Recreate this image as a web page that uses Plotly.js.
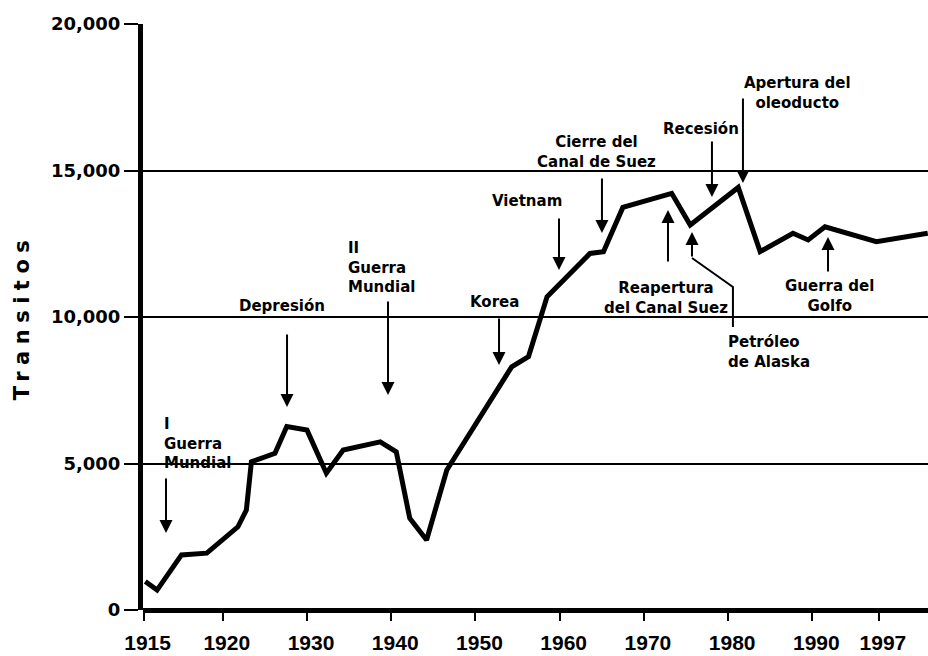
<!DOCTYPE html>
<html><head><meta charset="utf-8">
<script src="https://cdn.plot.ly/plotly-3.0.1.min.js"></script>
<style>
html,body{margin:0;padding:0;background:#fff;}
#chart{width:928px;height:656px;}
.ytitle{letter-spacing:6.5px;}
</style></head><body><div id="chart"></div>
<script>
// Transits per year (x in axis years)
const years = [1910.8, 1912.2, 1915.1, 1918.1, 1921.8, 1922.8, 1923.4, 1926.2, 1927.6, 1930.0,
  1932.3, 1934.3, 1938.7, 1940.6, 1942.2, 1944.2, 1946.6, 1954.3, 1956.3, 1957.7, 1958.5,
  1963.6, 1965.2, 1967.5, 1973.3, 1975.5, 1981.2, 1983.8, 1987.7, 1989.5, 1991.5, 1997.6, 2003.7];
const transits = [970, 680, 1880, 1940, 2840, 3410, 5060, 5350, 6260, 6140,
  4670, 5460, 5740, 5400, 3130, 2390, 4780, 8300, 8650, 9900, 10690,
  12170, 12230, 13740, 14220, 13140, 14420, 12230, 12860, 12630, 13080, 12570, 12860];

const yTickVals = [0, 5000, 10000, 15000, 20000];
const yTickText = ['0', '5,000', '10,000', '15,000', '20,000'];
const xTickVals = [1910.6, 1920, 1930, 1940, 1950, 1960, 1970, 1980, 1990, 1997.9];
const xTickText = ['1915', '1920', '1930', '1940', '1950', '1960', '1970', '1980', '1990', '1997'];

// Event labels (positions in axis units)
const eventTexts = ['I<br>Guerra<br>Mundial', 'Depresión', 'II<br>Guerra<br>Mundial', 'Korea', 'Vietnam',
  'Cierre del<br>Canal de Suez', 'Recesión', 'Apertura del<br>oleoducto', 'Reapertura<br>del Canal Suez',
  'Petróleo<br>de Alaska', 'Guerra del<br>Golfo'];
const eventX = [1912.79, 1927.09, 1934.63, 1952.32, 1956.12, 1964.43, 1976.78, 1988.18, 1972.62, 1979.76, 1992.09];
const eventY = [6724, 10380, 12730, 10512, 13959, 15615, 16417, 17645, 10649, 8806, 10717];
const eventXAnchor = ['left', 'center', 'left', 'center', 'center', 'center', 'center', 'center', 'center', 'left', 'center'];
const eventYAnchor = ['top', 'middle', 'top', 'middle', 'middle', 'middle', 'middle', 'middle', 'middle', 'middle', 'middle'];

// Arrows: x, head y, tail y
const arrowX = [1913.26, 1927.63, 1939.62, 1952.8, 1959.92, 1965.02, 1978.08, 1981.76, 1972.86, 1975.71, 1991.86];
const arrowHeadY = [2628, 6928, 7338, 8362, 11604, 12867, 14096, 14574, 13652, 12901, 12730];
const arrowTailY = [4539, 9454, 10580, 10000, 13413, 14778, 16041, 17509, 11843, 12014, 11502];
// Bent leader for "Petróleo de Alaska"
const alaskaLeaderX = [1980.57, 1980.57, 1975.71];
const alaskaLeaderY = [9659, 11024, 12014];

const labelFont = {family: 'DejaVu Sans', size: 15, color: '#000', weight: 'bold'};

const annotations = [];
eventTexts.forEach((t, i) => {
  annotations.push({
    text: t, x: eventX[i], y: eventY[i], xref: 'x', yref: 'y',
    xanchor: eventXAnchor[i], yanchor: eventYAnchor[i], align: eventXAnchor[i] === 'left' ? 'left' : 'center',
    showarrow: false, font: labelFont
  });
});
arrowX.forEach((x, i) => {
  annotations.push({
    text: '', x: x, y: arrowHeadY[i], ax: x, ay: arrowTailY[i], axref: 'x', ayref: 'y',
    xref: 'x', yref: 'y', showarrow: true, arrowhead: 2, arrowsize: 1.3, arrowwidth: 2,
    arrowcolor: '#000', standoff: 0, startstandoff: 0
  });
});

const pathStr = alaskaLeaderX.map((x, i) => (i ? 'L ' : 'M ') + x + ',' + alaskaLeaderY[i]).join(' ');

const data = [{
  x: years, y: transits, type: 'scatter', mode: 'lines',
  line: {color: '#000', width: 5}, hoverinfo: 'skip'
}];

const layout = {
  width: 928, height: 656,
  margin: {l: 143, r: 0, t: 24, b: 46},
  paper_bgcolor: '#fff', plot_bgcolor: '#fff',
  showlegend: false,
  xaxis: {
    range: [1910.53, 2003.73], showgrid: false, zeroline: false, showline: false,
    tickvals: xTickVals, ticktext: xTickText, ticks: 'outside', ticklen: 10, tickwidth: 2, tickcolor: '#000',
    tickfont: {family: 'Liberation Sans', size: 21, color: '#000', weight: 'bold'},
    ticklabelshift: 4, ticklabelstandoff: 4
  },
  yaxis: {
    range: [0, 20000], showgrid: true, gridcolor: '#000', gridwidth: 2,
    zeroline: true, zerolinecolor: '#000', zerolinewidth: 5,
    showline: true, linecolor: '#000', linewidth: 5,
    tickvals: yTickVals, ticktext: yTickText, ticks: 'outside', ticklen: 14, tickwidth: 2, tickcolor: '#000',
    tickfont: {family: 'DejaVu Sans', size: 18, color: '#000', weight: 'bold'},
    title: {text: 'Transitos', font: {family: 'DejaVu Sans', size: 21, color: '#000', weight: 'bold'}, standoff: 17}
  },
  shapes: [{type: 'path', xref: 'x', yref: 'y', path: pathStr, line: {color: '#000', width: 2}}],
  annotations: annotations
};

Plotly.newPlot('chart', data, layout, {displayModeBar: false, staticPlot: true});
</script></body></html>
